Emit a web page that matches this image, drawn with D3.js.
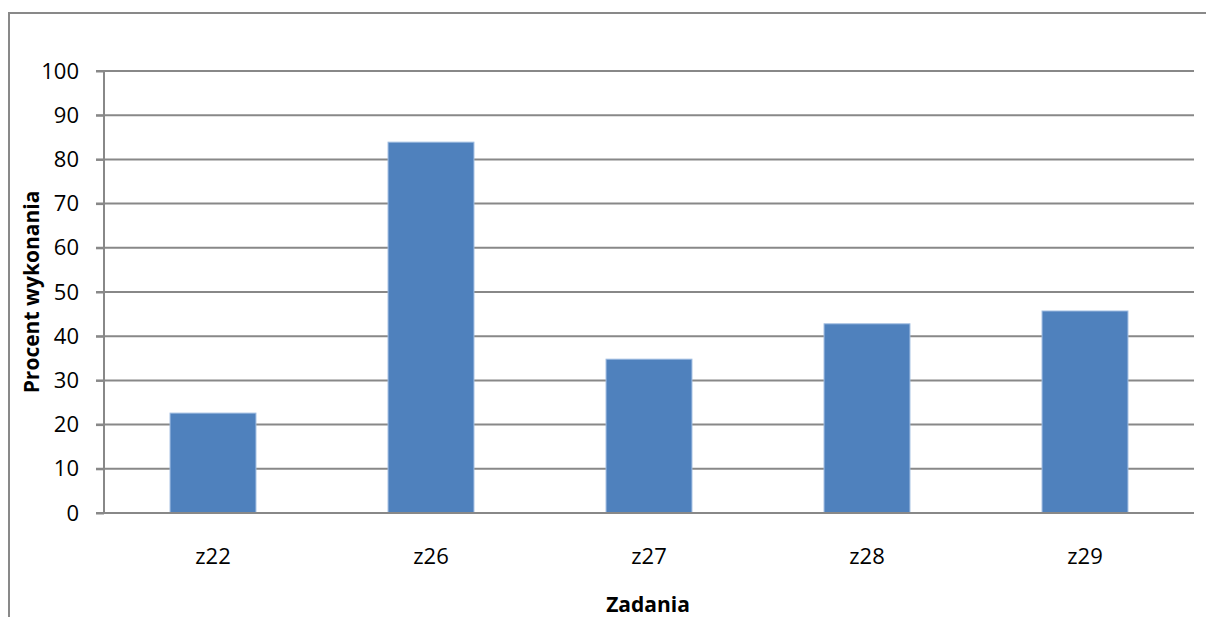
<!DOCTYPE html>
<html>
<head>
<meta charset="utf-8">
<script src="https://cdn.jsdelivr.net/npm/d3@7"></script>
<style>
  html, body { margin: 0; padding: 0; background: #fff; }
  svg { display: block; }
  text { font-family: "Open Sans", Lato, sans-serif; fill: #000; }
</style>
</head>
<body>
<svg id="chart" width="1206" height="617"></svg>
<script>
const categories = ["z22", "z26", "z27", "z28", "z29"];
const values = [22.6, 83.9, 34.8, 42.8, 45.7];
const yTicks = [0, 10, 20, 30, 40, 50, 60, 70, 80, 90, 100];
const xTitle = "Zadania";
const yTitle = "Procent wykonania";

const svg = d3.select("#chart");
const W = 1206, H = 617;
const m = { left: 104, right: 1194, top: 71, bottom: 513 };
const FONT = "'Open Sans', Lato, sans-serif";

// outer frame
svg.append("rect")
  .attr("x", 9).attr("y", 13)
  .attr("width", W + 10).attr("height", H + 10)
  .attr("fill", "none").attr("stroke", "#898989").attr("stroke-width", 2);

const x = d3.scaleBand().domain(categories).range([m.left, m.right])
  .paddingInner(0.606).paddingOuter(0.303);
const y = d3.scaleLinear().domain([0, 100]).range([m.bottom, m.top]);

// gridlines
svg.append("g").selectAll("line").data(yTicks.filter(d => d > 0)).join("line")
  .attr("x1", m.left - 8).attr("x2", m.right)
  .attr("y1", d => y(d)).attr("y2", d => y(d))
  .attr("stroke", "#888").attr("stroke-width", 2);

// bars
svg.append("g").selectAll("rect").data(values).join("rect")
  .attr("x", (d, i) => x(categories[i]))
  .attr("y", d => y(d))
  .attr("width", x.bandwidth())
  .attr("height", d => y(0) - y(d))
  .attr("fill", "#4F81BD")
  .attr("stroke", "#9dbbe0").attr("stroke-width", 1);

// y axis
const yAxis = d3.axisLeft(y).tickValues(yTicks).tickSize(8).tickPadding(17);
const gy = svg.append("g").attr("transform", `translate(${m.left},0)`).call(yAxis);
gy.select(".domain").attr("stroke", "#888").attr("stroke-width", 2).attr("d", `M0,${m.top}V${m.bottom}`);
gy.selectAll(".tick line").attr("stroke", "#888").attr("stroke-width", 2);
gy.selectAll(".tick text").attr("font-size", 22).attr("font-family", FONT).attr("fill", "#000");

// x axis baseline
svg.append("line")
  .attr("x1", m.left - 8).attr("x2", m.right)
  .attr("y1", y(0)).attr("y2", y(0))
  .attr("stroke", "#888").attr("stroke-width", 2);

// x labels
const xAxis = d3.axisBottom(x).tickSize(0).tickPadding(0);
const gx = svg.append("g").attr("transform", `translate(0,${m.bottom})`).call(xAxis);
gx.select(".domain").remove();
gx.selectAll(".tick text").attr("font-size", 22).attr("font-family", FONT)
  .attr("fill", "#000").attr("dy", null).attr("y", 51);

// titles
svg.append("text").attr("x", 648).attr("y", 612)
  .attr("text-anchor", "middle").attr("font-size", 21).attr("font-weight", "bold")
  .text(xTitle);
svg.append("text")
  .attr("transform", `translate(39,${(m.top + m.bottom) / 2}) rotate(-90)`)
  .attr("text-anchor", "middle").attr("font-size", 21).attr("font-weight", "bold")
  .text(yTitle);
</script>
</body>
</html>
